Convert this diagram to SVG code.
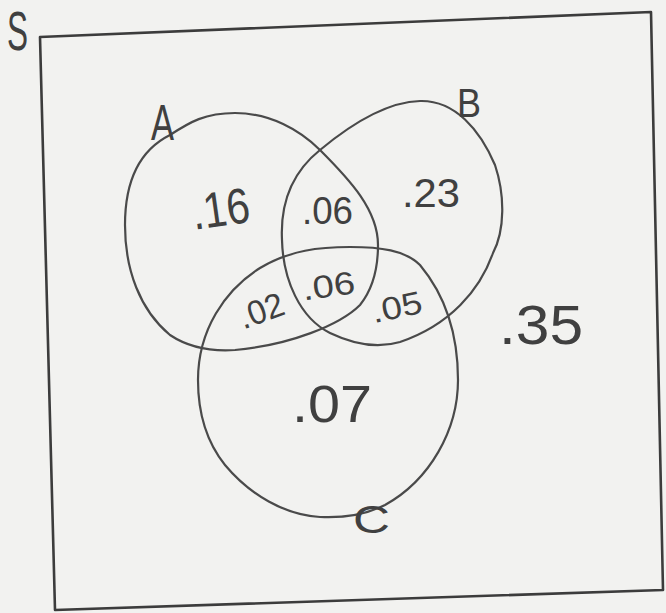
<svg xmlns="http://www.w3.org/2000/svg" width="666" height="613" viewBox="0 0 666 613">
<style>
.bg{fill:#f2f2f0}
.frame{fill:none;stroke:#3c3c3c;stroke-width:2.6;stroke-linejoin:round}
.set{fill:none;stroke:#4a4a4a;stroke-width:2.2}
.t{font-family:"Liberation Sans","DejaVu Sans",sans-serif;fill:#404040}
</style>
<rect class="bg" x="0" y="0" width="666" height="613"/>
<g id="universe">
<polygon class="frame" points="40,37 651,12 663,590 55,610"/>
<text class="t" x="7" y="50" font-size="56" textLength="21" lengthAdjust="spacingAndGlyphs">S</text>
</g>
<g id="set-A">
<path class="set" d="M125,225 C125,180 140,150 170,135 C190,122 205,113 235,113 C270,113 300,130 320,150 C350,180 378,210 378,245 C378,270 372,290 360,305 C340,325 290,345 235,350 C205,352 185,345 170,335 C140,310 125,270 125,225 Z"/>
<text class="t" x="151" y="140" font-size="50" textLength="23" lengthAdjust="spacingAndGlyphs">A</text>
</g>
<g id="set-B">
<path class="set" d="M282,240 C280,200 295,170 320,150 C350,125 385,102 420,101 C455,100 480,130 495,165 C505,195 505,230 493,253 C480,290 450,325 400,342 C380,348 355,345 330,333 C300,318 283,280 282,240 Z"/>
<text class="t" x="457" y="117" font-size="41" textLength="24" lengthAdjust="spacingAndGlyphs">B</text>
</g>
<g id="set-C">
<path class="set" d="M198,380 C198,330 225,290 260,268 C290,250 320,247 350,247 C380,247 405,250 420,265 C445,295 458,335 458,380 C458,430 430,480 385,505 C365,515 340,518 320,517 C285,515 250,495 225,465 C205,440 198,410 198,380 Z"/>
<text class="t" x="353" y="533" font-size="38" textLength="37" lengthAdjust="spacingAndGlyphs">C</text>
</g>
<g id="regions">
<text id="r-A" class="t" x="191" y="226" font-size="50" textLength="58" lengthAdjust="spacingAndGlyphs" transform="rotate(-8 220 205)">.16</text>
<text id="r-AB" class="t" x="302" y="224" font-size="38" textLength="51" lengthAdjust="spacingAndGlyphs">.06</text>
<text id="r-B" class="t" x="402" y="207" font-size="41" textLength="58" lengthAdjust="spacingAndGlyphs">.23</text>
<text id="r-AC" class="t" x="238" y="322" font-size="34" textLength="46" lengthAdjust="spacingAndGlyphs" transform="rotate(-20 262 310)">.02</text>
<text id="r-ABC" class="t" x="302" y="297" font-size="32" textLength="53" lengthAdjust="spacingAndGlyphs" transform="rotate(-8 328 287)">.06</text>
<text id="r-BC" class="t" x="371" y="318" font-size="32" textLength="51" lengthAdjust="spacingAndGlyphs" transform="rotate(-12 397 306)">.05</text>
<text id="r-C" class="t" x="292" y="422" font-size="52" textLength="80" lengthAdjust="spacingAndGlyphs">.07</text>
<text id="r-none" class="t" x="499" y="344" font-size="56" textLength="84" lengthAdjust="spacingAndGlyphs">.35</text>
</g>
</svg>
